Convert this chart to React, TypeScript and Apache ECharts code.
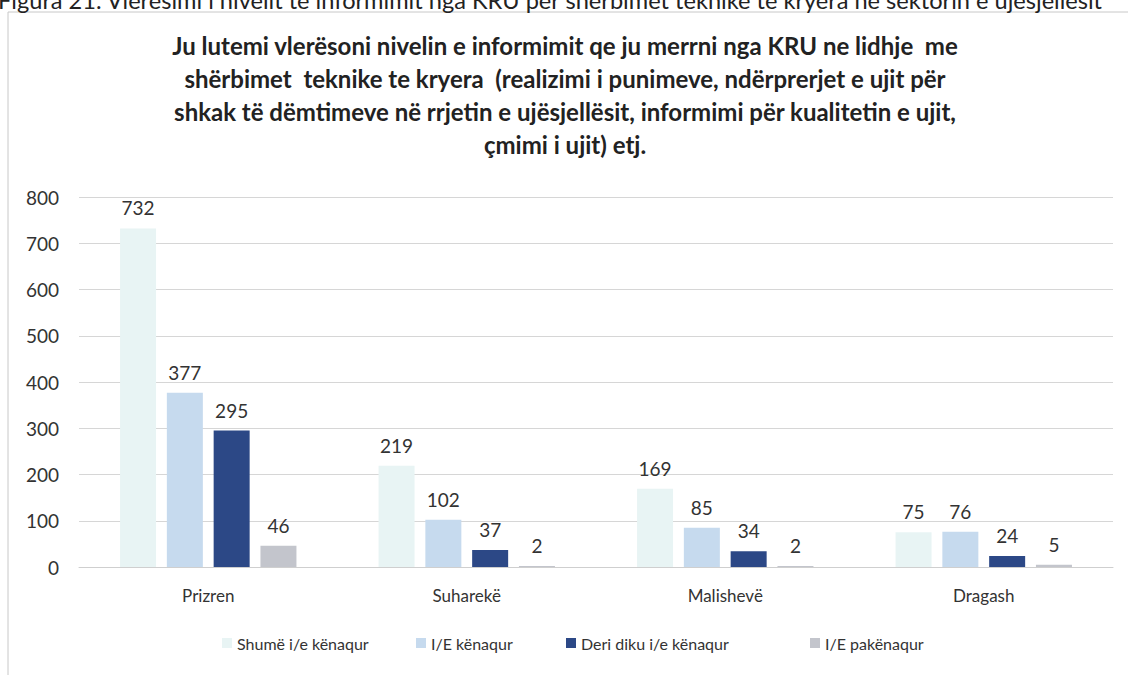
import React, { useEffect, useRef } from "react";
import * as echarts from "echarts";

const categories = ["Prizren", "Suharekë", "Malishevë", "Dragash"];
const seriesNames = ["Shumë i/e kënaqur", "I/E kënaqur", "Deri diku i/e kënaqur", "I/E pakënaqur"];
const shumeKenaqur = [732, 219, 169, 75];
const kenaqur = [377, 102, 85, 76];
const deriDiku = [295, 37, 34, 24];
const pakenaqur = [46, 2, 2, 5];
const colors = ["#e8f4f4", "#c6daee", "#2c4886", "#c3c5cc"];
const yTicks = [0, 800, 100];

const titleText =
  "Ju lutemi vlerësoni nivelin e informimit qe ju merrni nga KRU ne lidhje  me\nshërbimet  teknike te kryera  (realizimi i punimeve, ndërprerjet e ujit për\nshkak të dëmtimeve në rrjetin e ujësjellësit, informimi për kualitetin e ujit,\nçmimi i ujit) etj.";
const captionText =
  "Figura 21. Vlerësimi i nivelit të informimit nga KRU për shërbimet teknike të kryera në sektorin e ujësjellësit";

const FONT = "Lato, 'Open Sans', sans-serif";
const legendLefts = [217, 411, 561, 805];

export default function App() {
  const ref = useRef<HTMLDivElement>(null);
  useEffect(() => {
    if (!ref.current) return;
    const chart = echarts.init(ref.current, null, { renderer: "svg" });
    const data = [shumeKenaqur, kenaqur, deriDiku, pakenaqur];
    chart.setOption({
      animation: false,
      backgroundColor: "#ffffff",
      textStyle: { fontFamily: FONT },
      title: {
        text: titleText,
        left: 560,
        textAlign: "center",
        top: 24,
        textStyle: {
          fontFamily: FONT,
          fontSize: 24,
          fontWeight: "bold",
          color: "#222222",
          lineHeight: 33,
        },
      },
      graphic: [
        {
          type: "rect",
          shape: { x: 8, y: 12, width: 1130, height: 680 },
          style: { fill: "none", stroke: "#c8c8c8", lineWidth: 1 },
          silent: true,
        },
        {
          type: "text",
          left: -2,
          top: -12,
          style: {
            text: captionText,
            fontFamily: FONT,
            fontSize: 23.6,
            fill: "#222222",
          },
        },
      ],
      legend: seriesNames.map((name, i) => ({
        data: [name],
        top: 630,
        left: legendLefts[i],
        itemWidth: 10,
        itemHeight: 10,
        icon: "rect",
        textStyle: { fontFamily: FONT, fontSize: 16, color: "#333333" },
      })),
      grid: { left: 79, right: 15, top: 197, bottom: 108, containLabel: false },
      xAxis: {
        type: "category",
        data: categories,
        axisTick: { show: false },
        axisLine: { lineStyle: { color: "#cfcfcf" } },
        axisLabel: { fontFamily: FONT, fontSize: 17, color: "#333333", margin: 20 },
      },
      yAxis: {
        type: "value",
        min: yTicks[0],
        max: yTicks[1],
        interval: yTicks[2],
        axisLine: { show: false },
        axisTick: { show: false },
        axisLabel: { fontFamily: FONT, fontSize: 19, color: "#333333", margin: 20 },
        splitLine: { lineStyle: { color: "#d6d6d6" } },
      },
      series: seriesNames.map((name, i) => ({
        name,
        type: "bar",
        data: data[i],
        barWidth: 36,
        barGap: "30%",
        itemStyle: { color: colors[i] },
        label: {
          show: true,
          position: "top",
          distance: 11,
          fontFamily: FONT,
          fontSize: 19,
          color: "#333333",
        },
      })),
    });
    return () => chart.dispose();
  }, []);
  return (
    <div
      ref={ref}
      style={{ position: "fixed", left: 0, top: 0, width: 1128, height: 675 }}
    />
  );
}
